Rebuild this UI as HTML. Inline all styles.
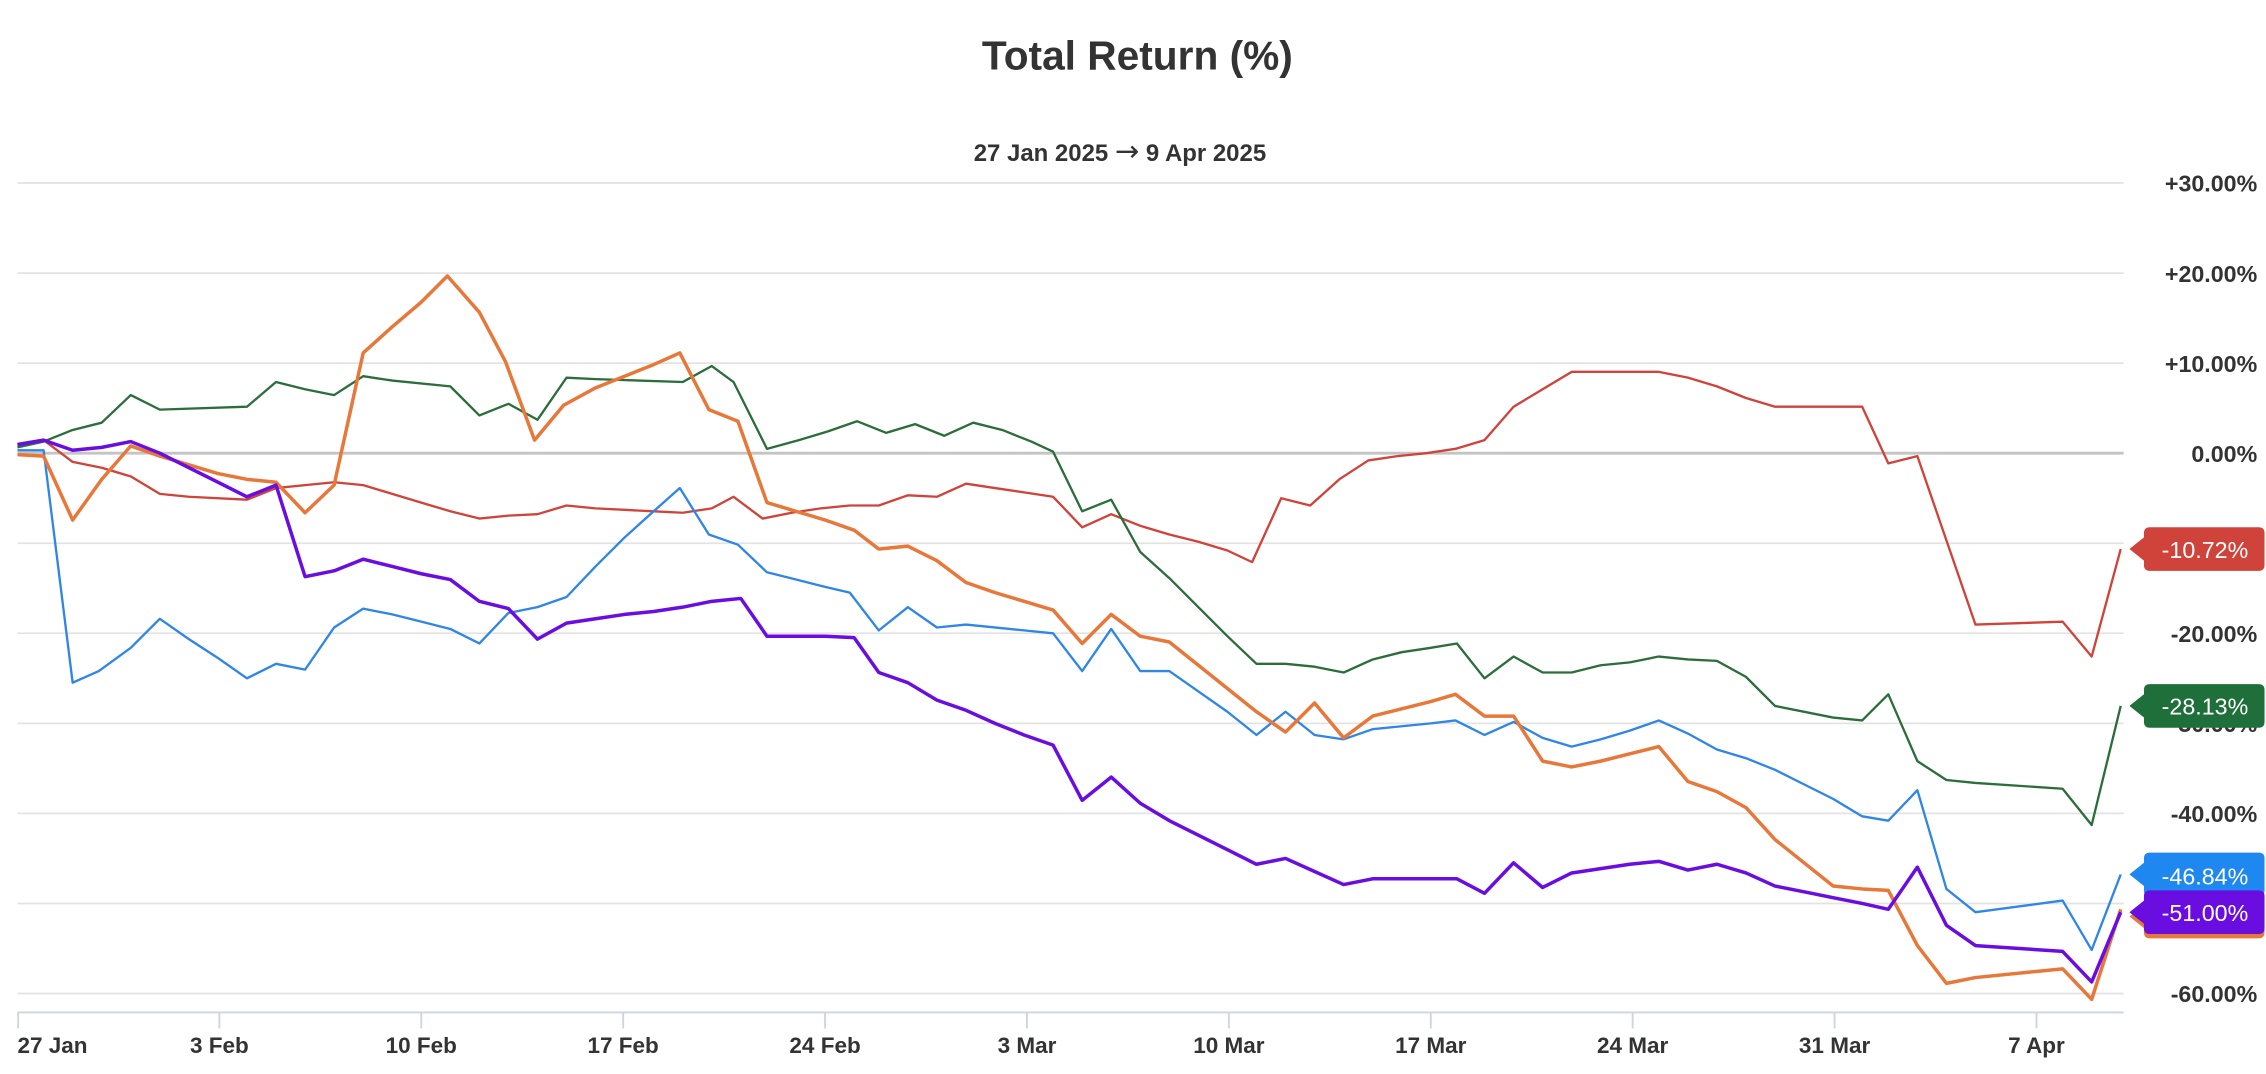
<!DOCTYPE html>
<html><head><meta charset="utf-8"><style>
html,body{margin:0;padding:0;background:#fff;}
svg{display:block;font-family:"Liberation Sans",sans-serif;}
</style></head><body>
<svg width="2266" height="1074" viewBox="0 0 1560 739.4" xmlns="http://www.w3.org/2000/svg">
<text x="783" y="48" text-anchor="middle" font-size="28" font-weight="bold" fill="#333">Total Return (%)</text>
<text x="771" y="111" text-anchor="middle" font-size="16.5" font-weight="bold" fill="#333">27 Jan 2025 <tspan font-size="20" font-family="DejaVu Sans" font-weight="normal">→</tspan> 9 Apr 2025</text>
<g stroke="#e3e3e3" stroke-width="1.2">
<line x1="12" x2="1462" y1="126" y2="126"/><line x1="12" x2="1462" y1="188" y2="188"/><line x1="12" x2="1462" y1="250" y2="250"/>
<line x1="12" x2="1462" y1="374" y2="374"/><line x1="12" x2="1462" y1="436" y2="436"/><line x1="12" x2="1462" y1="498" y2="498"/>
<line x1="12" x2="1462" y1="560" y2="560"/><line x1="12" x2="1462" y1="622" y2="622"/><line x1="12" x2="1462" y1="684" y2="684"/>
</g>
<line x1="12" x2="1462" y1="312" y2="312" stroke="#c4c4c4" stroke-width="2"/>
<g stroke="#ccd6e0" stroke-width="1.3"><line x1="12" x2="1462" y1="697" y2="697"/>
<line x1="12.5" x2="12.5" y1="697" y2="708"/><line x1="151" x2="151" y1="697" y2="708"/><line x1="290" x2="290" y1="697" y2="708"/><line x1="429" x2="429" y1="697" y2="708"/><line x1="568" x2="568" y1="697" y2="708"/><line x1="707" x2="707" y1="697" y2="708"/><line x1="846" x2="846" y1="697" y2="708"/><line x1="985" x2="985" y1="697" y2="708"/><line x1="1124" x2="1124" y1="697" y2="708"/><line x1="1263" x2="1263" y1="697" y2="708"/><line x1="1402" x2="1402" y1="697" y2="708"/></g>
<g font-size="15.5" font-weight="bold" fill="#333" text-anchor="middle">
<text x="12" y="725" text-anchor="start">27 Jan</text><text x="151" y="725">3 Feb</text><text x="290" y="725">10 Feb</text><text x="429" y="725">17 Feb</text><text x="568" y="725">24 Feb</text><text x="707" y="725">3 Mar</text><text x="846" y="725">10 Mar</text><text x="985" y="725">17 Mar</text><text x="1124" y="725">24 Mar</text><text x="1263" y="725">31 Mar</text><text x="1402" y="725">7 Apr</text>
</g>
<g font-size="16" font-weight="bold" fill="#333" text-anchor="end">
<text x="1554" y="132">+30.00%</text><text x="1554" y="194">+20.00%</text><text x="1554" y="256">+10.00%</text><text x="1554" y="318">0.00%</text><text x="1554" y="442">-20.00%</text><text x="1554" y="504">-30.00%</text><text x="1554" y="566">-40.00%</text><text x="1554" y="690">-60.00%</text>
</g>
<g fill="none" stroke-linejoin="round">
<polyline stroke="#d0433a" stroke-width="1.6" points="12,306 30,303 50,318 70,322 90,328 110,340 130,342 170,344 190,336 210,334 230,332 250,334 270,340 290,346 310,352 330,357 350,355 370,354 390,348 410,350 430,351 450,352 470,353 490,350 505,342 525,357 545,353 565,350 585,348 605,348 625,341 645,342 665,333 685,336 705,339 725,342 745,363 765,354 785,362 805,368 825,373 845,379 862,387 882,343 902,348 922,330 942,317 962,314 982,312 1002,309 1022,303 1042,280 1062,268 1082,256 1102,256 1122,256 1142,256 1162,260 1182,266 1202,274 1222,280 1242,280 1262,280 1282,280 1300,319 1320,314 1360,430 1420,428 1440,452 1460,378"/>
<polyline stroke="#2c6e3b" stroke-width="1.6" points="12,308 30,304 50,296 70,291 90,272 110,282 170,280 190,263 210,268 230,272 250,259 270,262 310,266 330,286 350,278 370,289 390,260 410,261 470,263 490,252 505,263 528,309 550,303 570,297 590,290 610,298 630,292 650,300 670,291 690,296 710,304 725,311 745,352 765,344 785,380 805,398 825,418 845,438 865,457 885,457 905,459 925,463 945,454 965,449 985,446 1003,443 1022,467 1042,452 1062,463 1082,463 1102,458 1122,456 1142,452 1162,454 1182,455 1202,466 1222,486 1262,494 1282,496 1300,478 1320,524 1340,537 1360,539 1420,543 1440,568 1460,486"/>
<polyline stroke="#2f86e6" stroke-width="1.6" points="12,310 30,310 50,470 68,462 90,446 110,426 130,440 150,453 170,467 190,457 210,461 230,432 250,419 270,423 290,428 310,433 330,443 350,422 370,418 390,411 410,390 430,370 450,352 468,336 488,368 508,375 528,394 548,399 568,404 585,408 605,434 625,418 645,432 665,430 705,434 725,436 745,462 765,433 785,462 805,462 825,476 845,490 865,506 885,490 905,506 925,509 945,502 965,500 985,498 1002,496 1022,506 1042,497 1062,508 1082,514 1102,509 1122,503 1142,496 1162,505 1182,516 1202,522 1222,530 1242,540 1262,550 1282,562 1300,565 1320,544 1340,612 1360,628 1420,620 1440,654 1460,602"/>
<polyline stroke="#e8773a" stroke-width="2.4" points="12,313 30,314 50,358 70,330 90,307 110,314 130,320 150,326 170,330 190,332 210,353 230,334 250,243 270,225 290,208 308,190 330,215 348,249 368,303 388,279 410,267 430,259 450,251 468,243 488,282 508,290 528,346 548,352 568,358 588,365 605,378 625,376 645,386 665,401 685,408 705,414 725,420 745,443 765,423 785,438 805,442 825,458 845,474 865,490 885,504 905,484 925,508 945,493 965,488 985,483 1002,478 1022,493 1042,493 1062,524 1082,528 1102,524 1122,519 1142,514 1162,538 1182,545 1202,556 1222,578 1242,594 1262,610 1282,612 1300,613 1320,651 1340,677 1360,673 1420,667 1440,688 1460,626"/>
<polyline stroke="#6a0de0" stroke-width="2.4" points="12,306 30,303 50,310 70,308 90,304 110,312 130,322 150,332 170,342 190,334 210,397 230,393 250,385 270,390 290,395 310,399 330,414 350,419 370,440 390,429 410,426 430,423 450,421 470,418 490,414 510,412 528,438 548,438 568,438 588,439 605,463 625,470 645,482 665,489 685,498 705,506 725,513 745,551 765,535 785,553 805,565 825,575 845,585 865,595 885,591 905,600 925,609 945,605 965,605 985,605 1003,605 1022,615 1042,594 1062,611 1082,601 1102,598 1122,595 1142,593 1162,599 1182,595 1202,601 1222,610 1242,614 1262,618 1282,622 1300,626 1320,597 1340,637 1360,651 1420,655 1440,676 1460,628"/>
</g>
<g font-size="16" fill="#fff" text-anchor="middle">
<path d="M1466,378 L1476,370 L1476,367 Q1476,363 1480,363 L1555,363 Q1559,363 1559,367 L1559,389 Q1559,393 1555,393 L1480,393 Q1476,393 1476,389 L1476,386 Z" fill="#d0433a"/>
<text x="1518" y="384">-10.72%</text>
<path d="M1466,486 L1476,478 L1476,475 Q1476,471 1480,471 L1555,471 Q1559,471 1559,475 L1559,497 Q1559,501 1555,501 L1480,501 Q1476,501 1476,497 L1476,494 Z" fill="#1f6f3a"/>
<text x="1518" y="492">-28.13%</text>
<path d="M1466,602 L1476,594 L1476,591 Q1476,587 1480,587 L1555,587 Q1559,587 1559,591 L1559,613 Q1559,617 1555,617 L1480,617 Q1476,617 1476,613 L1476,610 Z" fill="#1e88f0"/>
<text x="1518" y="609">-46.84%</text>
<path d="M1466,631 L1476,623 L1476,620 Q1476,616 1480,616 L1555,616 Q1559,616 1559,620 L1559,642 Q1559,646 1555,646 L1480,646 Q1476,646 1476,642 L1476,639 Z" fill="#e8773a"/>
<path d="M1466,628 L1476,620 L1476,617 Q1476,613 1480,613 L1555,613 Q1559,613 1559,617 L1559,639 Q1559,643 1555,643 L1480,643 Q1476,643 1476,639 L1476,636 Z" fill="#6a0de0"/>
<text x="1518" y="634">-51.00%</text>
</g>
</svg>
</body></html>
